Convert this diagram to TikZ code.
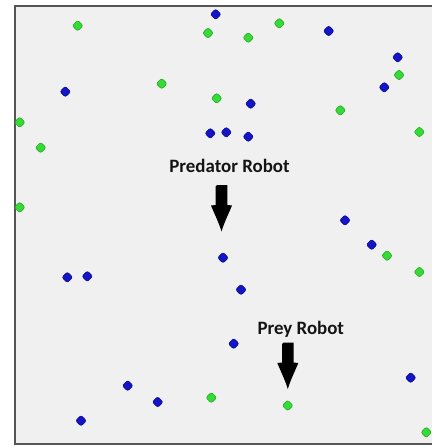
\documentclass[tikz,border=0pt]{standalone}
\usepackage{fontspec}
\setmainfont{Carlito}
\usetikzlibrary{shapes.geometric}
\definecolor{panel}{HTML}{F0F0F0}
\definecolor{framec}{HTML}{555555}
\definecolor{bluefill}{HTML}{1414C8}
\definecolor{blueedge}{HTML}{0A0A8C}
\definecolor{greenfill}{HTML}{36DC36}
\definecolor{greenedge}{HTML}{24A824}
\tikzset{
  dot/.style={diamond, rounded corners=2pt, minimum size=11pt, inner sep=0pt, line width=0.6pt},
  bluedot/.style={dot, fill=bluefill, draw=blueedge},
  greendot/.style={dot, fill=greenfill, draw=greenedge},
  label/.style={font=\bfseries\fontsize{18.9}{20}\selectfont, text=black!92, anchor=base, inner sep=0pt},
  downarrow/.pic={
    \fill[black] (-5.8,1.5) to[rounded corners=1.5pt] (-5.8,0) -- (5.8,0) to[sharp corners] (5.8,20) -- (10.5,20.5)
      .. controls (7,29) and (2.5,38) .. (0,46.5)
      .. controls (-2.5,38) and (-7,29) .. (-10.5,20.5) -- (-5.8,20) -- cycle;
  }
}
\begin{document}
\begin{tikzpicture}[x=1pt, y=-1pt]
\useasboundingbox (0,0) rectangle (432,447);
\fill[white] (0,0) rectangle (432,447);
\fill[panel] (15,6) rectangle (432,444);
\draw[framec, line width=2pt] (432,6) -- (15,6) -- (15,444) -- (432,444);
% green robots
\foreach \px/\py [count=\i] in {77.7/25.7, 208/33, 248.3/37.7, 279.3/23.3, 399/75, 161.7/83.7, 216.7/98.3, 340.3/110.3, 19.7/122.3, 419.3/132, 40.7/147.7, 19.7/207.3, 387/255.7, 419.3/272, 211.3/397.7, 426.3/432.3}
  \node[greendot] (g\i) at (\px,\py) {};
\node[greendot] (prey) at (287.7,405.5) {};
% blue robots
\foreach \px/\py [count=\i] in {215.7/14.3, 328.7/31, 397.7/57.3, 384.3/87.3, 65.3/91.7, 250.7/103.7, 210.3/133.3, 226.3/132.3, 248.3/136.7, 345/220.3, 371.7/244.7, 67.3/277.3, 87.3/276.3, 241/289.7, 233.7/343.7, 127.7/385.7, 157.7/402, 81/420.7, 410.7/377.7}
  \node[bluedot] (b\i) at (\px,\py) {};
\node[bluedot] (predator) at (223,257.7) {};
% labels
\node[label] (predlabel) at (229.5,172.5) {Predator Robot};
\node[label] (preylabel) at (300.8,334.5) {Prey Robot};
% arrows
\coordinate (predarrow) at (221.5,185);
\coordinate (preyarrow) at (287.8,342.5);
\pic at (predarrow) {downarrow};
\pic at (preyarrow) {downarrow};
\end{tikzpicture}
\end{document}
